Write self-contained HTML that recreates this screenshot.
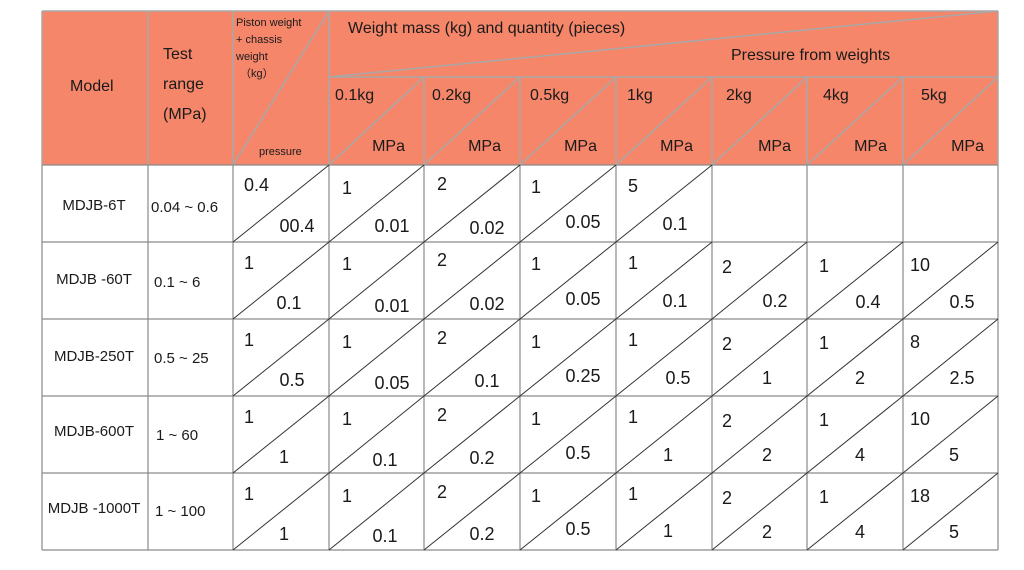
<!DOCTYPE html>
<html><head><meta charset="utf-8"><style>
html,body{margin:0;padding:0;background:#fff;width:1024px;height:570px;overflow:hidden}
svg{display:block}
text{font-family:"Liberation Sans",sans-serif;fill:#1a1a1a}
</style></head><body>
<svg width="1024" height="570" viewBox="0 0 1024 570" xmlns="http://www.w3.org/2000/svg">
<rect x="42" y="11" width="956" height="154" fill="#F5866A"/>
<g stroke="#a8a8a8" stroke-width="1.5" fill="none">
<line x1="329" y1="77" x2="998" y2="77"/>
<line x1="329" y1="77" x2="998" y2="11"/>
<line x1="233" y1="165" x2="329" y2="11"/>
<line x1="329" y1="165" x2="424" y2="77"/><line x1="424" y1="165" x2="520" y2="77"/><line x1="520" y1="165" x2="616" y2="77"/><line x1="616" y1="165" x2="712" y2="77"/><line x1="712" y1="165" x2="807" y2="77"/><line x1="807" y1="165" x2="903" y2="77"/><line x1="903" y1="165" x2="998" y2="77"/>
<line x1="42" y1="11" x2="998" y2="11"/>
<line x1="42" y1="11" x2="42" y2="165"/><line x1="148" y1="11" x2="148" y2="165"/><line x1="233" y1="11" x2="233" y2="165"/><line x1="329" y1="11" x2="329" y2="165"/>
<line x1="424" y1="77" x2="424" y2="165"/><line x1="520" y1="77" x2="520" y2="165"/><line x1="616" y1="77" x2="616" y2="165"/><line x1="712" y1="77" x2="712" y2="165"/><line x1="807" y1="77" x2="807" y2="165"/><line x1="903" y1="77" x2="903" y2="165"/><line x1="998" y1="11" x2="998" y2="165"/>
</g>
<g stroke="#8a8a8a" stroke-width="1.2" fill="none">
<line x1="42" y1="165" x2="998" y2="165"/><line x1="42" y1="242" x2="998" y2="242"/><line x1="42" y1="319" x2="998" y2="319"/><line x1="42" y1="396" x2="998" y2="396"/><line x1="42" y1="473" x2="998" y2="473"/><line x1="42" y1="550" x2="998" y2="550"/>
<line x1="42" y1="165" x2="42" y2="550"/><line x1="148" y1="165" x2="148" y2="550"/><line x1="233" y1="165" x2="233" y2="550"/><line x1="329" y1="165" x2="329" y2="550"/><line x1="424" y1="165" x2="424" y2="550"/><line x1="520" y1="165" x2="520" y2="550"/><line x1="616" y1="165" x2="616" y2="550"/><line x1="712" y1="165" x2="712" y2="550"/><line x1="807" y1="165" x2="807" y2="550"/><line x1="903" y1="165" x2="903" y2="550"/><line x1="998" y1="165" x2="998" y2="550"/>
</g>
<g stroke="#333" stroke-width="1" fill="none">
<line x1="233" y1="242" x2="329" y2="165"/><line x1="329" y1="242" x2="424" y2="165"/><line x1="424" y1="242" x2="520" y2="165"/><line x1="520" y1="242" x2="616" y2="165"/><line x1="616" y1="242" x2="712" y2="165"/>
<line x1="233" y1="319" x2="329" y2="242"/><line x1="329" y1="319" x2="424" y2="242"/><line x1="424" y1="319" x2="520" y2="242"/><line x1="520" y1="319" x2="616" y2="242"/><line x1="616" y1="319" x2="712" y2="242"/><line x1="712" y1="319" x2="807" y2="242"/><line x1="807" y1="319" x2="903" y2="242"/><line x1="903" y1="319" x2="998" y2="242"/>
<line x1="233" y1="396" x2="329" y2="319"/><line x1="329" y1="396" x2="424" y2="319"/><line x1="424" y1="396" x2="520" y2="319"/><line x1="520" y1="396" x2="616" y2="319"/><line x1="616" y1="396" x2="712" y2="319"/><line x1="712" y1="396" x2="807" y2="319"/><line x1="807" y1="396" x2="903" y2="319"/><line x1="903" y1="396" x2="998" y2="319"/>
<line x1="233" y1="473" x2="329" y2="396"/><line x1="329" y1="473" x2="424" y2="396"/><line x1="424" y1="473" x2="520" y2="396"/><line x1="520" y1="473" x2="616" y2="396"/><line x1="616" y1="473" x2="712" y2="396"/><line x1="712" y1="473" x2="807" y2="396"/><line x1="807" y1="473" x2="903" y2="396"/><line x1="903" y1="473" x2="998" y2="396"/>
<line x1="233" y1="550" x2="329" y2="473"/><line x1="329" y1="550" x2="424" y2="473"/><line x1="424" y1="550" x2="520" y2="473"/><line x1="520" y1="550" x2="616" y2="473"/><line x1="616" y1="550" x2="712" y2="473"/><line x1="712" y1="550" x2="807" y2="473"/><line x1="807" y1="550" x2="903" y2="473"/><line x1="903" y1="550" x2="998" y2="473"/>
</g>
<!-- header text -->
<g font-size="16">
<text x="70" y="91">Model</text>
<text x="163" y="59">Test</text><text x="163" y="89">range</text><text x="163" y="119">(MPa)</text>
<text x="348" y="33">Weight mass (kg) and quantity (pieces)</text>
<text x="731" y="60">Pressure from weights</text>
<text x="335" y="100">0.1kg</text><text x="432" y="100">0.2kg</text><text x="530" y="100">0.5kg</text><text x="627" y="100">1kg</text><text x="726" y="100">2kg</text><text x="823" y="100">4kg</text><text x="921" y="100">5kg</text>
<g text-anchor="end"><text x="405" y="151">MPa</text><text x="501" y="151">MPa</text><text x="597" y="151">MPa</text><text x="693" y="151">MPa</text><text x="791" y="151">MPa</text><text x="887" y="151">MPa</text><text x="984" y="151">MPa</text></g>
</g>
<g font-size="11"><text x="236" y="26">Piston weight</text><text x="236" y="43">+ chassis</text><text x="236" y="60">weight</text><text x="240" y="77">（kg）</text><text x="259" y="155">pressure</text></g>
<!-- row labels -->
<g font-size="15" text-anchor="middle">
<text x="94" y="210">MDJB-6T</text><text x="94" y="284">MDJB -60T</text><text x="94" y="361">MDJB-250T</text><text x="94" y="436">MDJB-600T</text><text x="94" y="513">MDJB -1000T</text>
</g>
<g font-size="15">
<text x="151" y="212">0.04 ~ 0.6</text><text x="154" y="287">0.1 ~ 6</text><text x="154" y="363">0.5 ~ 25</text><text x="156" y="440">1 ~ 60</text><text x="155" y="516">1 ~ 100</text>
</g>
<!-- data -->
<g font-size="18">
<text x="244" y="191">0.4</text><text x="342" y="194">1</text><text x="437" y="190">2</text><text x="531" y="193">1</text><text x="628" y="192">5</text>
<text x="244" y="269">1</text><text x="342" y="270">1</text><text x="437" y="266">2</text><text x="531" y="270">1</text><text x="628" y="269">1</text><text x="722" y="273">2</text><text x="819" y="272">1</text><text x="910" y="271">10</text>
<text x="244" y="346">1</text><text x="342" y="348">1</text><text x="437" y="344">2</text><text x="531" y="348">1</text><text x="628" y="346">1</text><text x="722" y="350">2</text><text x="819" y="349">1</text><text x="910" y="348">8</text>
<text x="244" y="423">1</text><text x="342" y="425">1</text><text x="437" y="421">2</text><text x="531" y="425">1</text><text x="628" y="423">1</text><text x="722" y="427">2</text><text x="819" y="426">1</text><text x="910" y="425">10</text>
<text x="244" y="500">1</text><text x="342" y="502">1</text><text x="437" y="498">2</text><text x="531" y="502">1</text><text x="628" y="500">1</text><text x="722" y="504">2</text><text x="819" y="503">1</text><text x="910" y="502">18</text>
</g>
<g font-size="18" text-anchor="middle">
<text x="297" y="232">00.4</text><text x="392" y="232">0.01</text><text x="487" y="234">0.02</text><text x="583" y="228">0.05</text><text x="675" y="230">0.1</text>
<text x="289" y="309">0.1</text><text x="392" y="312">0.01</text><text x="487" y="310">0.02</text><text x="583" y="305">0.05</text><text x="675" y="307">0.1</text><text x="775" y="307">0.2</text><text x="868" y="308">0.4</text><text x="962" y="308">0.5</text>
<text x="292" y="386">0.5</text><text x="392" y="389">0.05</text><text x="487" y="387">0.1</text><text x="583" y="382">0.25</text><text x="678" y="384">0.5</text><text x="767" y="384">1</text><text x="860" y="384">2</text><text x="962" y="384">2.5</text>
<text x="284" y="463">1</text><text x="385" y="466">0.1</text><text x="482" y="464">0.2</text><text x="578" y="459">0.5</text><text x="668" y="461">1</text><text x="767" y="461">2</text><text x="860" y="461">4</text><text x="954" y="461">5</text>
<text x="284" y="540">1</text><text x="385" y="542">0.1</text><text x="482" y="540">0.2</text><text x="578" y="535">0.5</text><text x="668" y="537">1</text><text x="767" y="538">2</text><text x="860" y="538">4</text><text x="954" y="538">5</text>
</g>
</svg>
</body></html>
